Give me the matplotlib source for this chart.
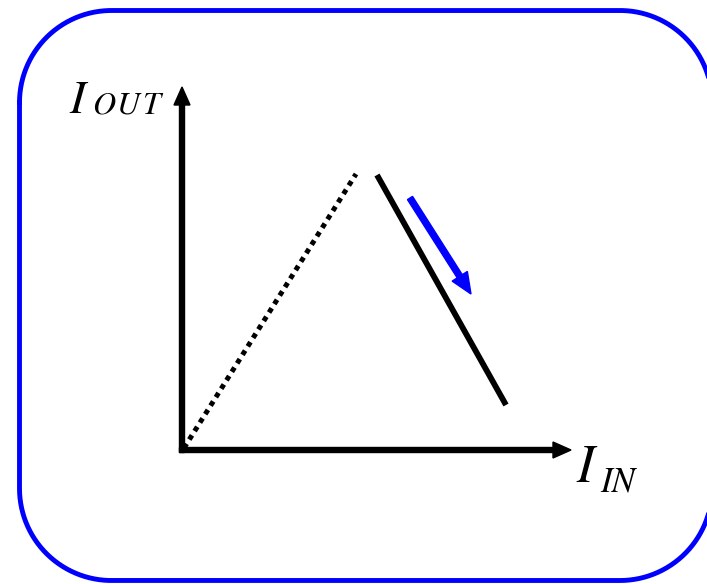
import matplotlib
matplotlib.use("Agg")
import matplotlib.pyplot as plt
import numpy as np

# Diagram geometry (canvas units, origin top-left)
origin = (182, 450)
y_axis_top = 87
x_axis_end = 571
dotted_x = [184, 356]
dotted_y = [448, 174]
solid_x = [377, 506]
solid_y = [175, 405]
trend_start = (410, 198)
trend_end = (471, 294)
frame = dict(left=19.5, top=10.5, right=712, bottom=580.5, radius=92)
out_main = "I"
out_sub = ["O", "U", "T"]
in_main = "I"
in_sub = "IN"

fig = plt.figure(figsize=(7.07, 5.84), dpi=100)
ax = fig.add_axes([0, 0, 1, 1])
ax.set_xlim(0, 707)
ax.set_ylim(584, 0)
ax.axis('off')

# rounded blue frame
L, T, R, B, r = frame['left'], frame['top'], frame['right'], frame['bottom'], frame['radius']
def arc(cx, cy, a0, a1):
    t = np.linspace(np.radians(a0), np.radians(a1), 60)
    return cx + r * np.cos(t), cy + r * np.sin(t)
pts_x, pts_y = [], []
for cx, cy, a0, a1 in [(L + r, T + r, 180, 270), (R - r, T + r, 270, 360),
                       (R - r, B - r, 0, 90), (L + r, B - r, 90, 180)]:
    xs, ys = arc(cx, cy, a0, a1)
    pts_x.extend(xs); pts_y.extend(ys)
pts_x.append(pts_x[0]); pts_y.append(pts_y[0])
ax.plot(pts_x, pts_y, color='#0000ff', linewidth=3.5, solid_joinstyle='round')

# axes arrows
ax.arrow(origin[0], origin[1] + 2.5, 0, y_axis_top - origin[1] - 2.5, width=5,
         head_width=16, head_length=18, length_includes_head=True,
         color='black', zorder=3)
ax.arrow(origin[0] - 2.5, origin[1], x_axis_end - origin[0] + 2.5, 0, width=5,
         head_width=16, head_length=18, length_includes_head=True,
         color='black', zorder=3)

# dotted rising line
ax.plot(dotted_x, dotted_y, color='black', linewidth=3.6,
        linestyle=(0, (1, 1)), dash_capstyle='butt')
# solid falling line
ax.plot(solid_x, solid_y, color='black', linewidth=4.2, solid_capstyle='butt')

# blue trend arrow
ax.arrow(trend_start[0], trend_start[1],
         trend_end[0] - trend_start[0], trend_end[1] - trend_start[1],
         width=6, head_width=18, head_length=21, length_includes_head=True,
         color='#0000ff', zorder=3)

# labels (italic math-style I with subscript)
font = dict(family='STIXGeneral', style='italic', color='black', va='baseline', ha='left')
ax.text(69, 113, out_main, fontsize=34, **font)
for xpos, ch in zip([92, 117, 142], out_sub):
    ax.text(xpos, 113.5, ch, fontsize=23, **font)
ax.text(576, 482, in_main, fontsize=38, **font)
ax.text(600, 492, in_sub, fontsize=25, **font)

fig.savefig("out.png", dpi=100)
